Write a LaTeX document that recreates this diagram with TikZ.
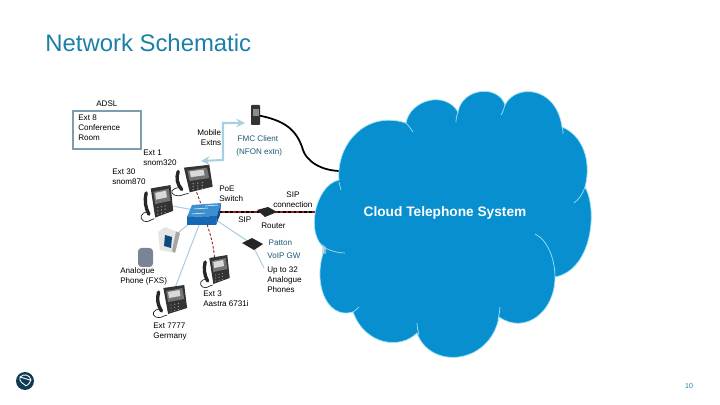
\documentclass[tikz,border=0pt]{standalone}
\usepackage{fontspec}
\setmainfont{Liberation Sans}
\definecolor{cloudblue}{HTML}{078FCF}
\definecolor{cloudedge}{HTML}{9FE3F5}
\definecolor{linkblue}{HTML}{A9CFE0}
\definecolor{titleblue}{HTML}{1C7FA8}
\definecolor{tealtext}{HTML}{1B5A75}
\definecolor{boxgrey}{HTML}{7E9DAE}
\definecolor{sipred}{HTML}{A01818}
\definecolor{logonavy}{HTML}{0F3B52}
\definecolor{switchtop}{HTML}{3D8FD0}
\definecolor{switchfront}{HTML}{1468B4}
\definecolor{switchside}{HTML}{0F4F8C}
\definecolor{gatewaygrey}{HTML}{7B8496}
\tikzset{
	lbl/.style={right,inner sep=0pt,align=left,font=\fontsize{4.6}{5.7}\selectfont},
	lblwide/.style={lbl,font=\fontsize{4.6}{7.2}\selectfont},
	lanlink/.style={linkblue,line width=0.6pt},
	siplink/.style={sipred,line width=0.5pt,dashed,dash pattern=on 1.5pt off 1pt},
	cloudarc/.style={cloudedge,line width=0.4pt},
	deskphone/.pic={
		\draw[black!85,line width=0.4pt] (-10,8) .. controls (-18,8) and (-20,14) .. (-15,16) .. controls (-10,18) and (-8,15) .. (-3,14);
		\fill[black!80] (-7,-13) -- (15,-16) -- (18,7) -- (-2,13) -- cycle;
		\fill[black!55] (-4,-10) -- (13,-13) -- (15,-2) -- (-2,1) -- cycle;
		\fill[black!15] (-2,-9) -- (10,-11) -- (11,-5) -- (-1,-3) -- cycle;
		\foreach \col in {0,1,2}
			\foreach \row in {0,1,2}
				\fill[black!40] (1+4*\col,4+3*\row-0.7*\col) circle [radius=0.7];
		\draw[black!85,line width=1.9pt,line cap=round] (-12,-9) .. controls (-14,-2) and (-13,4) .. (-9,10);
	},
}
\begin{document}
\begin{tikzpicture}[x=0.02cm,y=-0.02cm]
		\useasboundingbox (0,0) rectangle (720,405);
		\coordinate (snomtwenty) at (192,180);
		\coordinate (snomseventy) at (157,203);
		\coordinate (switch) at (204,212);
		\coordinate (router) at (267,212);
		\coordinate (mobile) at (256,115);
		\coordinate (aastra) at (215,271);
		\coordinate (germany) at (170,301);
		\coordinate (patton) at (252,244);
		\coordinate (linksys) at (169,240);
		\coordinate (analogue) at (145,257);
		\coordinate (cloudsip) at (325,212);
		\coordinate (cloudfmc) at (341,171);
		\coordinate (fmcin) at (245,123);
		\coordinate (fmcbend) at (223,123);
		\coordinate (extbend) at (223,160);
		\coordinate (extin) at (201,161);
		\coordinate (upto) at (264,268);

		\node [lbl,font=\fontsize{13.6}{16}\selectfont,text=titleblue] (title) at (45,43) {Network Schematic};

		\draw[lanlink] (snomseventy) -- (switch);
		\draw[lanlink] (linksys) -- (switch);
		\draw[lanlink] (germany) -- (switch);
		\draw[lanlink] (switch) -- (patton) -- (upto);
		\draw[siplink] (snomtwenty) -- (switch);
		\draw[siplink] (switch) .. controls (208,232) and (215,240) .. (aastra);
		\draw[linkblue,line width=1.2pt,<->,>=stealth] (fmcin) -- (fmcbend) -- (extbend) -- (extin);
		\draw[black,line width=1pt] (mobile) .. controls (285,120) and (297,130) .. (303,150) .. controls (306,160) and (320,171) .. (cloudfmc);
		\draw[sipred,line width=1pt] (switch) -- (cloudsip);
		\draw[black,line width=1pt,dash pattern=on 1.5pt off 1.5pt] (switch) -- (cloudsip);

		\draw[fill=cloudblue,draw=cloudedge,line width=0.4pt] (339,180)
			.. controls (336,145) and (365,110) .. (406,123)
			.. controls (410,100) and (445,90) .. (458,112)
			.. controls (462,88) and (498,84) .. (505,105)
			.. controls (515,84) and (556,85) .. (562,127)
			.. controls (582,135) and (592,160) .. (585,187)
			.. controls (598,210) and (592,270) .. (555,277)
			.. controls (555,312) and (525,335) .. (499,317)
			.. controls (490,365) and (430,370) .. (417,333)
			.. controls (400,350) and (365,345) .. (353,312)
			.. controls (325,320) and (312,280) .. (325,248)
			.. controls (305,235) and (315,185) .. (339,180) -- cycle;
		\draw[cloudarc] (405,122) .. controls (409,126) and (411,129) .. (413,132);
		\draw[cloudarc] (458,112) .. controls (457,115) and (456,118) .. (456,122);
		\draw[cloudarc] (505,105) .. controls (504,108) and (503,112) .. (501,115);
		\draw[cloudarc] (562,127) .. controls (563,129) and (563,131) .. (563,134);
		\draw[cloudarc] (585,187) .. controls (582,195) and (579,199) .. (574,203);
		\draw[cloudarc] (535,234) .. controls (548,240) and (555,260) .. (555,277);
		\draw[cloudarc] (500,307) .. controls (500,311) and (499,314) .. (498,320);
		\draw[cloudarc] (417,323) .. controls (417,327) and (418,331) .. (419,335);
		\draw[cloudarc] (353,312) .. controls (355,311) and (357,309) .. (359,307);
		\draw[cloudarc] (325,248) .. controls (331,251) and (338,253) .. (345,253);
		\draw[cloudarc] (339,182) .. controls (340,185) and (340,187) .. (341,190);
		\fill[linkblue,opacity=0.7] (322,244) -- (326,247) -- (326,254) -- (322,254) -- cycle;

		\node [font=\fontsize{7.8}{9}\bfseries\selectfont,text=white,inner sep=0pt] (cloud) at (445,213) {Cloud Telephone System};

		\draw[boxgrey,line width=1.1pt,fill=white] (73,111) rectangle (141,149);
		\node [lbl] (adsl) at (96,104) {ADSL};
		\node [lbl] (confroom) at (78,128) {Ext 8\\Conference\\Room};

		\pic[xscale=1.15,yscale=0.95] at (snomtwenty) {deskphone};
		\pic[xscale=0.9,yscale=1.12] at (snomseventy) {deskphone};
		\pic[xscale=0.82,yscale=1] at (aastra) {deskphone};
		\pic[xscale=0.95,yscale=1] at (germany) {deskphone};

		\fill[black!80,rounded corners=0.5pt] (251,105) rectangle (260,125);
		\fill[black!45] (253,109) rectangle (259,116);
		\fill[black!85] (257,210) -- (268,207) -- (277,212) -- (265,217) -- cycle;
		\fill[black!85] (242,243) -- (252,238) -- (263,244) -- (254,250) -- cycle;
		\fill[black!10] (158,232) -- (165,227) -- (180,233) -- (175,253) -- (160,250) -- cycle;
		\fill[black!35] (175,253) -- (180,233) -- (176,231.5) -- (172,251) -- cycle;
		\fill[switchfront!70!black] (165,235) -- (172,237) -- (171,248) -- (164,246) -- cycle;
		\fill[gatewaygrey,rounded corners=2pt] (138,248) rectangle (153,267);

		\fill[switchtop] (192,205) -- (221,203) -- (217,216) -- (187,217) -- cycle;
		\fill[switchfront] (187,217) -- (217,216) -- (216,225) -- (187,225) -- cycle;
		\fill[switchside] (221,203) -- (220,215) -- (216,225) -- (217,216) -- cycle;
		\draw[white,line width=0.3pt] (194,209) -- (208,208);
		\draw[white,line width=0.3pt] (205,206) -- (218,205);
		\draw[white,line width=0.3pt] (192,214) -- (205,213);

		\node [lbl,align=right] (extns) at (197,138) {Mobile\\Extns};
		\node [lblwide,text=tealtext] (fmc) at (236,146) {\,FMC Client\\(NFON extn)};
		\node [lbl] (extone) at (143,158) {Ext 1\\snom320};
		\node [lbl] (extthirty) at (112,177) {Ext 30\\snom870};
		\node [lbl] (poe) at (219,194) {PoE\\Switch};
		\node [lbl,align=center] (sipconn) at (273,200) {SIP\\connection};
		\node [lbl] (sip) at (238,220) {SIP};
		\node [lbl] (routerlbl) at (261,226) {Router};
		\node [lblwide,text=tealtext] (pattonlbl) at (267,249) {\,Patton\\VoIP GW};
		\node [lbl] (uptolbl) at (267,280) {Up to 32\\Analogue\\Phones};
		\node [lbl] (fxs) at (120,276) {Analogue\\Phone (FXS)};
		\node [lbl] (extthree) at (203,299) {Ext 3\\Aastra 6731i};
		\node [lbl] (extgermany) at (153,332) {Ext 7777\\Germany};

		\fill[logonavy] (25,381) circle [radius=9];
		\draw[white,line width=0.5pt] (20,377) .. controls (24,373) and (30,375) .. (31,380) .. controls (29,385) and (25,387) .. (25,385) .. controls (22,383) and (19,381) .. (20,377) -- (30,380);
		\node [font=\fontsize{4}{5}\selectfont,text=titleblue,inner sep=0pt] (pagenum) at (689,386) {10};
		\end{tikzpicture}
\end{document}
